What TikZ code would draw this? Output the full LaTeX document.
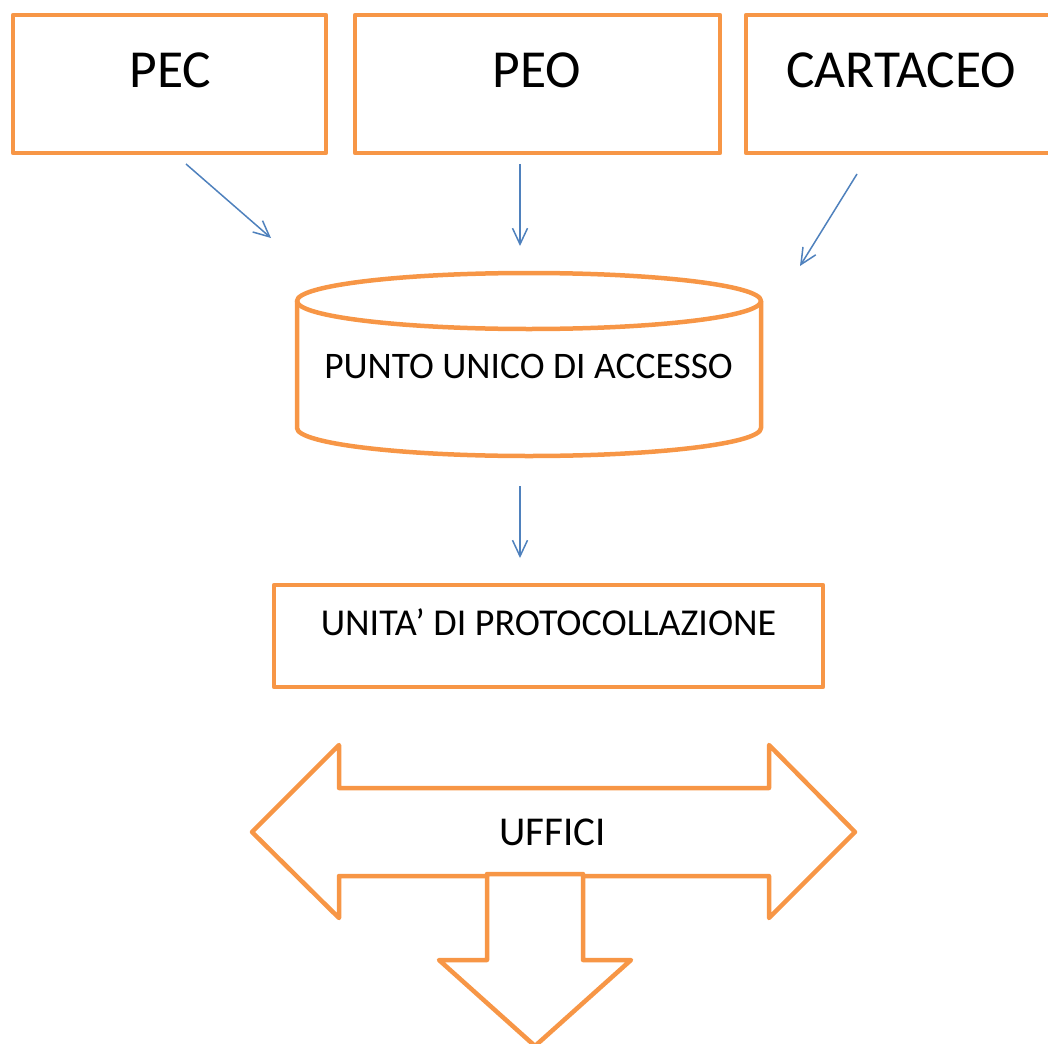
\documentclass[tikz,border=0pt]{standalone}
\usepackage{fontspec}
\setmainfont{Carlito}
\usetikzlibrary{arrows.meta}
\definecolor{boxorange}{HTML}{F79646}
\definecolor{linkblue}{HTML}{4F81BD}
\begin{document}
\begin{tikzpicture}[x=1pt, y=-1pt, inner sep=0pt,
    box/.style={draw=boxorange, line width=4.5pt, line join=round},
    link/.style={draw=linkblue, line width=1.5pt, -{Straight Barb[length=16pt, width=15pt]}},
    bigtxt/.style={font=\fontsize{53.5}{60}\selectfont, anchor=base},
    midtxt/.style={font=\fontsize{38}{44}\selectfont, anchor=base}]
   \useasboundingbox (0,0) rectangle (1048,1043);
   \clip (0,0) rectangle (1048,1043);
   % sources
   \node[box, minimum width=313, minimum height=138] (pec) at (169.5,84) {};
   \node[bigtxt] (pect) at (170.5,88) {PEC};
   \node[box, minimum width=365, minimum height=138] (peo) at (537.5,84) {};
   \node[bigtxt] (peot) at (537,88) {PEO};
   \node[box, minimum width=400, minimum height=138] (cart) at (946,84) {};
   \node[bigtxt] (cartt) at (901,88) {CARTACEO};
   % cylinder
   \draw[box] (529,301) ellipse [x radius=232, y radius=28];
   \draw[box] (297,301) -- (297,428) arc[start angle=180, end angle=0, x radius=232, y radius=28] -- (761,301);
   \node[midtxt, font=\fontsize{37.5}{44}\selectfont] (pua) at (528.5,378) {PUNTO UNICO DI ACCESSO};
   % protocol unit
   \node[box, minimum width=549, minimum height=102] (unita) at (548.5,636) {};
   \node[midtxt] (unitat) at (548.5,635) {UNITA’ DI PROTOCOLLAZIONE};
   % offices
   \draw[box] (252,832) -- (339,745) -- (339,788) -- (769,788) -- (769,745) -- (855,832)
      -- (769,918) -- (769,876) -- (339,876) -- (339,918) -- cycle;
   \draw[box, fill=white] (487,874) -- (583,874) -- (583,960) -- (631,960) -- (535,1046)
      -- (439,960) -- (487,960) -- cycle;
   \node[midtxt, font=\fontsize{41}{46}\selectfont] (uff) at (552.5,845) {UFFICI};
   % links
   \coordinate (s1) at (186,164);
   \coordinate (e1) at (271,238);
   \coordinate (s2) at (520,164);
   \coordinate (e2) at (520,246);
   \coordinate (s3) at (857,174);
   \coordinate (e3) at (800,266);
   \coordinate (s4) at (520,486);
   \coordinate (e4) at (520,558);
   \draw[link] (s1) -- (e1);
   \draw[link] (s2) -- (e2);
   \draw[link] (s3) -- (e3);
   \draw[link] (s4) -- (e4);
\end{tikzpicture}
\end{document}
